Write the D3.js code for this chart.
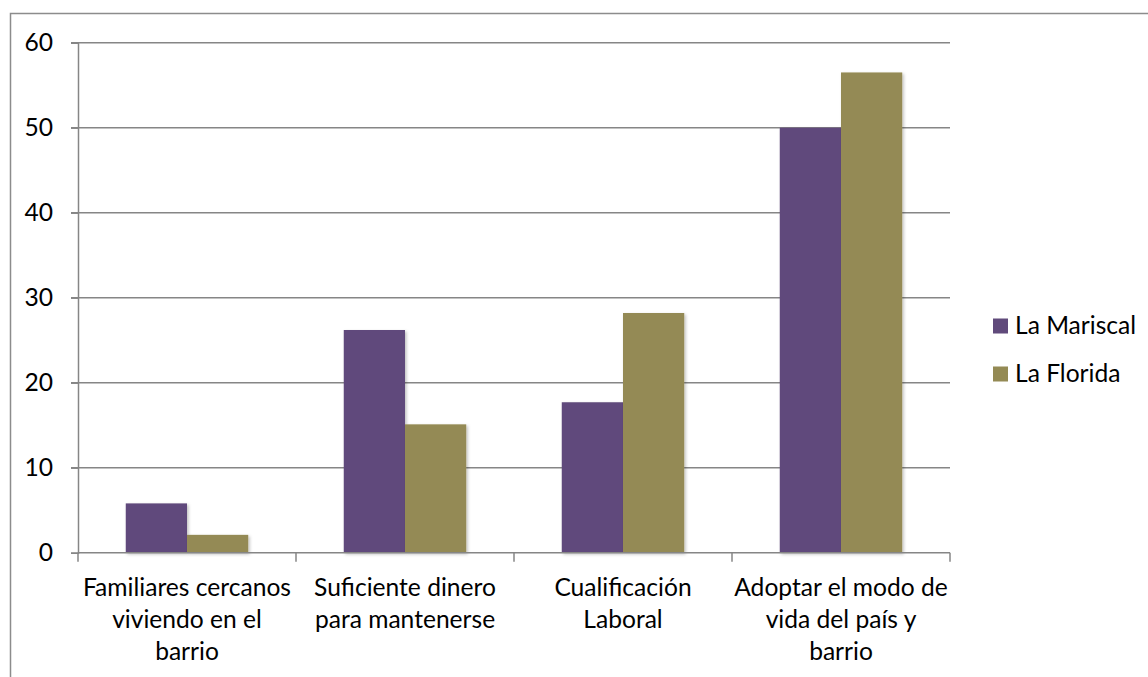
<!DOCTYPE html>
<html>
<head>
<meta charset="utf-8">
<script src="https://cdn.jsdelivr.net/npm/d3@7"></script>
<style>
  html, body { margin: 0; padding: 0; background: #fff; }
  svg { display: block; }
  text { font-family: Lato, "Liberation Sans", Arial, sans-serif; fill: #000; }
</style>
</head>
<body>
<svg id="chart" width="1148" height="677"></svg>
<script>
const categories = [
  ["Familiares cercanos", "viviendo en el", "barrio"],
  ["Suficiente dinero", "para mantenerse"],
  ["Cualificación", "Laboral"],
  ["Adoptar el modo de", "vida del país y", "barrio"]
];
const seriesNames = ["La Mariscal", "La Florida"];
const mariscal = [5.8, 26.2, 17.7, 50.0];
const florida = [2.1, 15.1, 28.2, 56.5];
const yTicks = [0, 10, 20, 30, 40, 50, 60];
const colors = ["#604A7B", "#948A54"];

const svg = d3.select("#chart");
const W = 1148, H = 677;
const margin = { left: 78, right: 1148 - 950, top: 42.7, bottom: 677 - 552.7 };
const fontSize = 24.6;
const fontFam = "Lato, 'Liberation Sans', Arial, sans-serif";

// defs: soft shadow for bars
const defs = svg.append("defs");
const f = defs.append("filter").attr("id", "shadow").attr("x", "-10%").attr("y", "-10%").attr("width", "130%").attr("height", "130%");
f.append("feDropShadow").attr("dx", 1.5).attr("dy", 1.5).attr("stdDeviation", 1.5).attr("flood-color", "#000").attr("flood-opacity", 0.25);

// outer frame
svg.append("rect")
  .attr("x", 10.5).attr("y", 13.5)
  .attr("width", 1300).attr("height", 800)
  .attr("fill", "none").attr("stroke", "#8c8c8c").attr("stroke-width", 1.5);

const catIdx = d3.range(categories.length);
const step = (W - margin.right - margin.left) / categories.length;
const xCat = d3.scaleBand().domain(catIdx).range([margin.left, W - margin.right]).padding(0);
const x1 = d3.scaleBand().domain(d3.range(seriesNames.length)).range([0, step]).paddingInner(0).paddingOuter(0.78);

const y = d3.scaleLinear().domain([0, 60]).range([H - margin.bottom, margin.top]);

// gridlines
svg.append("g").selectAll("line").data(yTicks.filter(d => d > 0)).join("line")
  .attr("x1", margin.left - 7).attr("x2", W - margin.right)
  .attr("y1", d => y(d)).attr("y2", d => y(d))
  .attr("stroke", "#868686").attr("stroke-width", 1.5);

// y axis
const yAxis = svg.append("g")
  .attr("transform", `translate(${margin.left},0)`)
  .call(d3.axisLeft(y).tickValues(yTicks).tickSize(7).tickPadding(18).tickFormat(d3.format("d")));
yAxis.select(".domain").attr("stroke", "#868686").attr("stroke-width", 1.5);
yAxis.selectAll(".tick line").attr("stroke", "#868686").attr("stroke-width", 1.5);
yAxis.selectAll(".tick text").style("font-size", fontSize + "px").style("font-family", fontFam).attr("fill", "#000");

// bars
const data = catIdx.map(i => [mariscal[i], florida[i]]);
const groups = svg.append("g").selectAll("g").data(data).join("g")
  .attr("transform", (d, i) => `translate(${xCat(i)},0)`);
groups.selectAll("rect").data(d => d.map((v, s) => ({ v, s }))).join("rect")
  .attr("x", d => x1(d.s))
  .attr("width", x1.bandwidth())
  .attr("y", d => y(d.v))
  .attr("height", d => y(0) - y(d.v))
  .attr("fill", d => colors[d.s])
  .attr("filter", "url(#shadow)");

// x axis
const xAxisG = svg.append("g").attr("transform", `translate(0,${y(0)})`);
xAxisG.append("line").attr("x1", margin.left).attr("x2", W - margin.right)
  .attr("y1", 0).attr("y2", 0).attr("stroke", "#868686").attr("stroke-width", 1.5);
const tickXs = catIdx.map(i => xCat(i)).concat([W - margin.right]);
xAxisG.selectAll("line.tk").data(tickXs).join("line").attr("class", "tk")
  .attr("x1", d => d).attr("x2", d => d).attr("y1", 0).attr("y2", 9)
  .attr("stroke", "#868686").attr("stroke-width", 1.5);

// category labels
const labG = svg.append("g");
categories.forEach((lines, i) => {
  const cx = xCat(i) + xCat.bandwidth() / 2;
  const t = labG.append("text").attr("text-anchor", "middle").style("font-size", fontSize + "px");
  lines.forEach((ln, k) => {
    t.append("tspan").attr("x", cx).attr("y", 596 + k * 32).text(ln);
  });
});

// legend
const leg = svg.append("g").attr("transform", "translate(993,0)");
seriesNames.forEach((name, i) => {
  const cy = 325.5 + i * 48;
  leg.append("rect").attr("x", 0).attr("y", cy - 7).attr("width", 15).attr("height", 15).attr("fill", colors[i]);
  leg.append("text").attr("x", 22).attr("y", cy).attr("dy", "0.35em").style("font-size", fontSize + "px").text(name);
});
</script>
</body>
</html>
